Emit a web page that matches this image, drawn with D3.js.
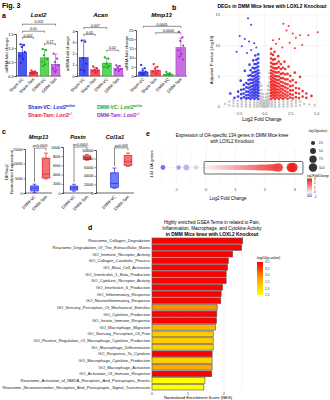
<!DOCTYPE html>
<html>
<head>
<meta charset="utf-8">
<script src="https://cdn.jsdelivr.net/npm/d3@7"></script>
<style>
body { margin: 0; background: #fff; }
svg { display: block; font-family: "Liberation Sans", Arial, sans-serif; }
</style>
</head>
<body>
<svg id="fig" width="330" height="400"></svg>
<script>
// ---- panel a : qPCR bars ----
const groups = ["Sham-VC", "Sham-Tam", "DMM-VC", "DMM-Tam"];
const groupFill = ["#4b55f0", "#f4505f", "#5ad65a", "#c872e2"];
const groupDark = ["#1f27d6", "#e01e3a", "#1faa1f", "#a22fc8"];

const loxl2Mean = [0.84, 0.13, 0.65, 0.42];
const loxl2Sd = [0.29, 0.04, 0.30, 0.36];
const loxl2Pts = [[1.13, 1.10, 1.04, 0.86, 0.72, 0.60, 0.47], [0.19, 0.16, 0.14, 0.12, 0.11, 0.09, 0.08],
                  [0.96, 0.92, 0.74, 0.60, 0.50, 0.42, 0.36], [0.80, 0.62, 0.50, 0.38, 0.26, 0.20, 0.16]];
const loxl2Brackets = [[0, 3, 1.85, "0.052"], [0, 2, 1.6, "0.01"], [0, 1, 1.38, "0.002"], [2, 3, 1.15, "0.27"]];

const acanMean = [1.65, 0.55, 1.15, 0.70];
const acanSd = [1.55, 0.20, 0.42, 0.20];
const acanPts = [[3.15, 3.05, 1.60, 1.10, 0.55, 0.45], [0.85, 0.70, 0.55, 0.48, 0.40, 0.30],
                 [1.65, 1.55, 1.10, 0.90, 0.80, 0.75], [0.95, 0.88, 0.78, 0.62, 0.52, 0.45]];
const acanBrackets = [[0, 2, 4.3, "0.007"], [0, 1, 3.7, "0.05"], [2, 3, 2.3, "0.02"]];

const mmp13Mean = [2.2, 3.0, 1.0, 15.5];
const mmp13Sd = [1.8, 1.9, 0.6, 5.0];
const mmp13Pts = [[6.0, 4.2, 3.0, 2.4, 1.8, 1.2, 0.8], [6.5, 5.0, 4.0, 3.0, 2.4, 1.5],
                  [2.2, 1.5, 1.1, 0.8, 0.5, 0.4], [24, 21, 19, 16.5, 14, 12, 10.5, 9]];
const mmp13Brackets = [[0, 3, 27, "0.0005"], [1, 3, 23.5, "0.0004"]];

// ---- panel b : volcano (columns of x with their y values) ----
const volcanoGray = [
  [-0.45, [0.2, 0.6, 1.0, 1.4, 1.8, 2.3, 2.8, 3.4, 4.0, 4.8, 5.6]], [-0.3, [0.1, 0.45, 0.85, 1.25, 1.7, 2.2, 2.8, 3.5]],
  [-0.15, [0.05, 0.35, 0.7, 1.1, 1.6, 2.1]], [0, [0.05, 0.3, 0.6, 1.0]], [0.15, [0.05, 0.35, 0.7, 1.1, 1.6, 2.1]],
  [0.3, [0.1, 0.45, 0.85, 1.25, 1.7, 2.2, 2.8, 3.5]], [0.45, [0.2, 0.6, 1.0, 1.4, 1.8, 2.3, 2.8, 3.4, 4.0, 4.8, 5.6]],
  [-3.8, [0.5]], [-3.4, [0.3, 0.9]], [-3.0, [0.2, 0.7, 1.1]], [-2.6, [0.15, 0.55, 1.0]], [-2.2, [0.1, 0.5, 0.9]],
  [-1.8, [0.1, 0.45, 0.85, 1.2]], [-1.4, [0.1, 0.4, 0.8, 1.2]], [-1.0, [0.05, 0.4, 0.75, 1.15]], [-0.7, [0.05, 0.35, 0.7, 1.05]],
  [0.7, [0.05, 0.35, 0.7, 1.05]], [1.0, [0.05, 0.4, 0.75, 1.15]], [1.4, [0.1, 0.4, 0.8, 1.2]], [1.8, [0.1, 0.45, 0.85, 1.2]],
  [2.2, [0.1, 0.5, 0.9]], [2.6, [0.15, 0.55, 1.0]], [3.0, [0.2, 0.7, 1.1]], [3.4, [0.3, 0.9]], [3.8, [0.5]], [4.3, [0.4]], [4.8, [0.3]]
];
const volcanoDown = [
  [-0.62, [1.35, 1.8, 2.25, 2.7, 3.15, 3.6, 4.05, 4.5, 5.0, 5.5, 6.0, 6.6, 7.2, 7.9, 8.6]],
  [-0.8, [1.55, 2.0, 2.45, 2.9, 3.35, 3.8, 4.3, 4.8, 5.3, 5.8, 6.4, 7.0, 7.7]],
  [-0.98, [1.35, 1.8, 2.25, 2.7, 3.15, 3.6, 4.1, 4.6, 5.1, 5.7, 6.3, 7.0]],
  [-1.16, [1.55, 2.0, 2.45, 2.9, 3.4, 3.9, 4.4, 5.0, 5.6, 6.4]],
  [-1.35, [1.35, 1.8, 2.3, 2.8, 3.3, 3.9, 4.5, 5.2, 6.0]],
  [-1.55, [1.5, 2.0, 2.5, 3.1, 3.7, 4.4, 5.1]], [-1.76, [1.4, 1.9, 2.5, 3.2, 3.9]], [-2.0, [1.6, 2.2, 2.9, 3.6]],
  [-2.25, [1.4, 2.1, 2.8]], [-2.55, [1.7, 2.5]], [-2.9, [1.5]], [-3.3, [2.2]],
  [-1.9, [5.9]], [-2.3, [4.3]], [-1.45, [6.9]], [-1.1, [7.6]], [-0.9, [8.4]]
];
const volcanoUp = [
  [0.62, [1.35, 1.8, 2.25, 2.7, 3.15, 3.6, 4.05, 4.5, 5.0, 5.5, 6.0, 6.6, 7.2, 7.9, 8.7, 9.5]],
  [0.8, [1.55, 2.0, 2.45, 2.9, 3.35, 3.8, 4.3, 4.8, 5.3, 5.8, 6.4, 7.0, 7.7, 8.5]],
  [0.98, [1.35, 1.8, 2.25, 2.7, 3.15, 3.6, 4.1, 4.6, 5.1, 5.7, 6.3, 7.0, 7.8]],
  [1.16, [1.55, 2.0, 2.45, 2.9, 3.4, 3.9, 4.4, 5.0, 5.6, 6.3, 7.1]],
  [1.35, [1.35, 1.8, 2.3, 2.8, 3.3, 3.8, 4.4, 5.0, 5.7, 6.5, 7.4]],
  [1.55, [1.55, 2.0, 2.5, 3.0, 3.5, 4.1, 4.7, 5.4, 6.2, 7.0]],
  [1.76, [1.35, 1.8, 2.3, 2.85, 3.4, 4.0, 4.7, 5.5, 6.4]],
  [1.98, [1.55, 2.05, 2.6, 3.2, 3.8, 4.5, 5.3, 6.2]],
  [2.2, [1.35, 1.85, 2.4, 3.0, 3.7, 4.5, 5.4]], [2.45, [1.55, 2.1, 2.7, 3.4, 4.2, 5.1]],
  [2.7, [1.4, 2.0, 2.7, 3.5, 4.4]], [3.0, [1.6, 2.3, 3.1, 4.0]], [3.3, [1.45, 2.2, 3.0]],
  [3.65, [1.7, 2.6]], [4.0, [1.5, 2.2]], [4.5, [1.8]],
  [2.9, [5.6]], [2.3, [6.6]], [3.4, [4.9]], [1.9, [7.4]], [1.3, [8.3]], [0.95, [9.0]]
];
const volcanoTop = [
  [-1.6, 14.5], [-1.3, 13.4], [-2.4, 11.6], [-1.9, 11.1], [-1.5, 10.7], [-1.0, 10.4], [-2.2, 9.9], [-0.8, 9.7],
  [-1.3, 9.3], [-2.7, 9.0], [-1.7, 8.8], [1.8, 13.6], [2.3, 13.2], [2.1, 12.5], [2.7, 12.0], [1.4, 11.1],
  [3.0, 11.3], [3.4, 11.7], [1.1, 10.3], [2.4, 10.5], [3.6, 10.1], [1.7, 9.7], [5.1, 12.2], [4.2, 11.7],
  [2.9, 9.6], [0.8, 10.9]
];

// ---- panel c : boxes [min, q1, median, q3, max] ----
const boxGroups = ["DMM-VC", "DMM-Tam"];
const cMmp13 = [[100, 680, 1600, 2400, 3000], [4800, 5100, 6400, 11900, 13600]];
const cPostn = [[400, 650, 1100, 1500, 1900], [7100, 7300, 7750, 8100, 8400]];
const cCol1a1 = [[11000, 13000, 22000, 47000, 58000], [62000, 64000, 73000, 87000, 93000]];

// ---- panel e : OA genes ----
const oaFc = [-1.45, -0.92, -0.66, -0.33, 0.04, 0.12, 0.21, 0.29, 0.36, 0.44, 0.52, 0.58, 0.66, 0.73, 0.81, 0.88,
  0.95, 1.03, 1.1, 1.17, 1.25, 1.31, 1.38, 1.46, 1.52, 1.6, 1.67, 1.73, 1.8, 1.87, 1.93, 2.0, 2.08, 2.15, 2.22,
  2.33, 2.47, 2.42, 2.88, 2.94];
const oaP = [3.3, 3.0, 5.0, 3.0, 2.8, 3.0, 2.9, 3.1, 3.0, 3.2, 3.1, 3.3, 3.2, 3.4, 3.3, 3.5,
  3.4, 3.6, 3.5, 3.7, 3.8, 3.7, 3.9, 4.0, 4.1, 4.2, 4.4, 4.5, 4.7, 4.8, 5.0, 5.2, 5.5, 5.8, 6.3,
  7.5, 9.0, 9.5, 11.5, 13.0];

// ---- panel d : GSEA ----
const gseaTerms = [
  "Reactome_Collagen_Degradation", "Reactome_Degradation_Of_The_Extracellular_Matrix", "GO_Immune_Receptor_Activity",
  "GO_Collagen_Catabolic_Process", "GO_Mast_Cell_Activation", "GO_Interleukin_1_Beta_Production",
  "GO_Cytokine_Receptor_Activity", "GO_Interleukin_6_Production", "GO_Inflammatory_Response",
  "GO_Neuroinflammatory_Response", "GO_Sensory_Perception_Of_Mechanical_Stimulus", "GO_Cytokine_Production",
  "GO_Innate_Immune_Response", "GO_Macrophage_Migration", "GO_Sensory_Perception_Of_Pain",
  "GO_Positive_Regulation_Of_Macrophage_Cytokine_Production", "GO_Macrophage_Differentiation", "GO_Response_To_Cytokine",
  "GO_Macrophage_Cytokine_Production", "GO_Macrophage_Activation", "GO_Activation_Of_Immune_Response",
  "Reactome_Activation_of_NMDA_Receptors_And_Postsynaptic_Events",
  "Reactome_Neurotransmitter_Receptors_And_Postsynaptic_Signal_Transmission"
];
const gseaNes = [2.52, 2.49, 2.24, 2.12, 2.10, 2.06, 2.06, 1.96, 1.92, 1.91, 1.81, 1.80, 1.79, 1.76, 1.70, 1.70,
  1.70, 1.67, 1.67, 1.67, 1.66, 1.47, 1.44];
const gseaLogP = [4, 4, 4, 4, 4, 4, 4, 4, 4, 4, 2.9, 4, 4, 2.6, 2.2, 2.2, 2.2, 4, 2.2, 2.7, 4, 1.5, 1.5];

const svg = d3.select("#fig");
const defs = svg.append("defs");

function label(x, y, s, size, o = {}) {
  const t = svg.append("text").attr("x", x).attr("y", y).attr("font-size", size).text(s);
  if (o.anchor) t.attr("text-anchor", o.anchor);
  if (o.weight) t.attr("font-weight", o.weight);
  if (o.italic) t.attr("font-style", "italic");
  t.attr("fill", o.fill || "#000");
  if (o.rotate) t.attr("transform", `rotate(${o.rotate},${x},${y})`);
  return t;
}

function styleAxis(g, size) {
  g.attr("font-family", null).attr("font-size", null);
  g.select(".domain").attr("stroke", "#000").attr("stroke-width", 0.6);
  g.selectAll(".tick line").attr("stroke-width", 0.5);
  g.selectAll(".tick text").attr("font-size", size).attr("fill", "#000");
}

function bracket(x1, x2, yb, text, size) {
  svg.append("path")
    .attr("d", `M${x1},${yb + 1.6}V${yb}H${x2}V${yb + 1.6}`)
    .attr("fill", "none").attr("stroke", "#222").attr("stroke-width", 0.5);
  label((x1 + x2) / 2, yb - 0.8, text, size, { anchor: "middle" });
}

label(2, 8, "Fig. 3", 7, { weight: "bold" });
label(2, 18, "a", 7, { weight: "bold" });
label(172, 10, "b", 7, { weight: "bold" });
label(2, 134, "c", 7, { weight: "bold" });
label(146, 136, "e", 7, { weight: "bold" });
label(88, 230, "d", 7, { weight: "bold" });

// ---------- panel a ----------
const jitter = [-2, 1.6, -0.6, 2.4, -2.6, 0.6, -1.4, 2.0];
function barChart(cfg) {
  const base = 76;
  const x = d3.scaleBand().domain(groups).range([cfg.left + 1, cfg.right]).paddingInner(0.22).paddingOuter(0.1);
  const y = d3.scaleLinear().domain([0, cfg.yMax]).range([base, cfg.top]);

  svg.append("g").attr("transform", `translate(${cfg.left},0)`)
    .call(d3.axisLeft(y).tickValues(cfg.ticks).tickFormat(cfg.fmt).tickSize(1.5).tickPadding(1))
    .call(g => styleAxis(g, 3.8));

  svg.append("line").attr("x1", cfg.left).attr("x2", cfg.right).attr("y1", base).attr("y2", base)
    .attr("stroke", "#000").attr("stroke-width", 0.6);

  groups.forEach((gname, i) => {
    const bx = x(gname), bw = x.bandwidth(), cx = bx + bw / 2;
    svg.append("rect").attr("x", bx).attr("y", y(cfg.mean[i])).attr("width", bw)
      .attr("height", base - y(cfg.mean[i]))
      .attr("fill", groupFill[i]).attr("stroke", groupDark[i]).attr("stroke-width", 0.5);
    const hi = y(cfg.mean[i] + cfg.sd[i]), lo = y(Math.max(0, cfg.mean[i] - cfg.sd[i]));
    svg.append("path").attr("d", `M${cx},${lo}V${hi}M${cx - 1.8},${hi}H${cx + 1.8}`)
      .attr("stroke", groupDark[i]).attr("stroke-width", 0.6).attr("fill", "none");
    cfg.pts[i].forEach((v, k) => {
      svg.append("circle").attr("cx", cx + jitter[k % jitter.length]).attr("cy", y(v)).attr("r", 1.1)
        .attr("fill", groupDark[i]);
    });
    label(cx + 1.5, base + 3.5, gname, 4.2, { anchor: "end", rotate: -45 });
  });

  cfg.brackets.forEach(([a, b, v, t]) => {
    bracket(x(groups[a]) + x.bandwidth() / 2, x(groups[b]) + x.bandwidth() / 2, y(v), t, 3.6);
  });

  label((cfg.left + cfg.right) / 2, 17, cfg.title, 6, { anchor: "middle", weight: "bold", italic: true });
  label(cfg.left - 8, (base + cfg.top) / 2, "mRNA fold change", 4.2, { anchor: "middle", rotate: -90 });
}

barChart({ left: 16, right: 61, top: 34, yMax: 1.5, ticks: [0, 0.5, 1.0, 1.5], fmt: d3.format(".1f"),
  mean: loxl2Mean, sd: loxl2Sd, pts: loxl2Pts, brackets: loxl2Brackets, title: "Loxl2" });
barChart({ left: 77, right: 124, top: 31, yMax: 4, ticks: [0, 1, 2, 3, 4], fmt: d3.format("d"),
  mean: acanMean, sd: acanSd, pts: acanPts, brackets: acanBrackets, title: "Acan" });
barChart({ left: 136, right: 187, top: 30, yMax: 25, ticks: [0, 5, 10, 15, 20, 25], fmt: d3.format("d"),
  mean: mmp13Mean, sd: mmp13Sd, pts: mmp13Pts, brackets: mmp13Brackets, title: "Mmp13" });

// legend of panel a
function legendItem(x, y, i, name, geno) {
  const t = svg.append("text").attr("x", x).attr("y", y).attr("font-size", 5).attr("font-weight", "bold")
    .attr("fill", groupDark[i]);
  t.append("tspan").text(name + ": ");
  t.append("tspan").attr("font-style", "italic").text("Loxl2");
  t.append("tspan").attr("font-style", "italic").attr("font-size", 3.4).attr("dy", -1.8).text(geno);
}
legendItem(28, 109, 0, "Sham-VC", "wt/wt");
legendItem(97, 109, 2, "DMM-VC", "wt/wt");
legendItem(28, 117, 1, "Sham-Tam", "-/-");
legendItem(97, 117, 3, "DMM-Tam", "-/-");

// ---------- panel b ----------
const vx = d3.scaleLinear().domain([-4.1, 5.8]).range([222, 325]);
const vy = d3.scaleLinear().domain([0, 15.5]).range([107, 12]);
[-2.5, 0, 2.5, 5].forEach(t => {
  svg.append("line").attr("x1", vx(t)).attr("x2", vx(t)).attr("y1", vy(15.5)).attr("y2", vy(0) + 2)
    .attr("stroke", "#ebebeb").attr("stroke-width", 0.5);
  label(vx(t), 115, d3.format(".1f")(t), 4, { anchor: "middle", fill: "#4d4d4d" });
});
[0, 5, 10, 15].forEach(t => {
  svg.append("line").attr("x1", vx(-4.1)).attr("x2", vx(5.8)).attr("y1", vy(t)).attr("y2", vy(t))
    .attr("stroke", "#ebebeb").attr("stroke-width", 0.5);
  label(vx(-4.1) - 2, vy(t) + 1.4, t, 4, { anchor: "end", fill: "#4d4d4d" });
});
const flat = cols => cols.flatMap(([x, ys]) => ys.map(y => [x, y]));
function volcanoDots(pts, color, r) {
  svg.append("g").selectAll("circle").data(pts).join("circle")
    .attr("cx", d => vx(d[0])).attr("cy", d => vy(d[1])).attr("r", r)
    .attr("fill", color).attr("fill-opacity", 0.85);
}
volcanoDots(flat(volcanoGray), "#bdbdbd", 1.2);
volcanoDots(flat(volcanoDown), "#2222e6", 1.35);
volcanoDots(flat(volcanoUp), "#f01414", 1.35);
volcanoDots(volcanoTop.filter(d => d[0] < 0), "#2222e6", 1.0);
volcanoDots(volcanoTop.filter(d => d[0] > 0), "#f01414", 1.0);
label(272, 7.5, "DEGs in DMM Mice knee with LOXL2 Knockout", 4.9, { anchor: "middle", weight: "bold" });
label(262, 121, "Log2 Fold Change", 4.8, { anchor: "middle" });
label(213, 60, "Adjusted P-value (-log10)", 4.3, { anchor: "middle", rotate: -90 });

// ---------- panel c ----------
function boxChart(cfg) {
  const base = 193;
  const y = d3.scaleLinear().domain([0, cfg.yMax]).range([base, cfg.top]);
  const cx = d3.scalePoint().domain(boxGroups).range([cfg.axis + cfg.off[0], cfg.axis + cfg.off[1]]);
  const colsFill = ["#6f7cf7", "#f27272"], colsLine = ["#2327e0", "#e41e1e"];
  const right = cx("DMM-Tam") + 6;

  svg.append("g").attr("transform", `translate(${cfg.axis},0)`)
    .call(d3.axisLeft(y).tickValues(cfg.ticks).tickFormat(d3.format("d")).tickSize(1.5).tickPadding(1))
    .call(g => styleAxis(g, 3.4));
  svg.append("line").attr("x1", cfg.axis).attr("x2", right).attr("y1", base).attr("y2", base)
    .attr("stroke", "#000").attr("stroke-width", 0.6);

  boxGroups.forEach((gname, i) => {
    const [mn, q1, md, q3, mx] = cfg.stats[i];
    const c = cx(gname), w = 7.6;
    svg.append("path").attr("d", `M${c},${y(mx)}V${y(q3)}M${c},${y(q1)}V${y(mn)}M${c - 2},${y(mx)}H${c + 2}M${c - 2},${y(mn)}H${c + 2}`)
      .attr("stroke", colsLine[i]).attr("stroke-width", 0.7);
    svg.append("rect").attr("x", c - w / 2).attr("y", y(q3)).attr("width", w).attr("height", y(q1) - y(q3))
      .attr("fill", colsFill[i]).attr("stroke", colsLine[i]).attr("stroke-width", 0.7);
    svg.append("line").attr("x1", c - w / 2).attr("x2", c + w / 2).attr("y1", y(md)).attr("y2", y(md))
      .attr("stroke", colsLine[i]).attr("stroke-width", 0.7);
    label(c + 1.5, base + 4, gname, 4.2, { anchor: "end", rotate: -45 });
  });

  const yb = y(cfg.bracketAt);
  const x1 = cx("DMM-VC"), x2 = cx("DMM-Tam");
  svg.append("path")
    .attr("d", `M${x1},${y(cfg.stats[0][4]) - 2}V${yb}H${x2}V${Math.min(yb + 2.5, y(cfg.stats[1][4]) - 2)}`)
    .attr("fill", "none").attr("stroke", "#222").attr("stroke-width", 0.5);
  label((x1 + x2) / 2, yb - 1, cfg.p, 3.6, { anchor: "middle" });
  label((cfg.axis + right) / 2, 138.5, cfg.title, 5.6, { anchor: "middle", weight: "bold", italic: true });
}
boxChart({ axis: 25, off: [9.5, 21], top: 149, yMax: 15000, ticks: [0, 5000, 10000, 15000],
  stats: cMmp13, bracketAt: 15300, p: "p<0.0001", title: "Mmp13" });
boxChart({ axis: 63, off: [11, 24], top: 147, yMax: 10000, ticks: [0, 2000, 4000, 6000, 8000, 10000],
  stats: cPostn, bracketAt: 10000, p: "p<0.0001", title: "Postn" });
boxChart({ axis: 96, off: [18.5, 32], top: 150, yMax: 100000, ticks: [0, 20000, 40000, 60000, 80000, 100000],
  stats: cCol1a1, bracketAt: 105000, p: "p=0.009", title: "Col1a1" });
label(8, 172, "DESeq2", 4.3, { anchor: "middle", rotate: -90 });
label(13, 172, "Normalized Expression", 4.3, { anchor: "middle", rotate: -90 });

// ---------- panel e ----------
const ex = d3.scaleLinear().domain([-1.55, 3.35]).range([160, 305]);
const eyRow = 167.5;
const eColor = d3.scaleLinear().domain([-1, 0, 3]).range(["#a385f4", "#f7eef0", "#f01c16"]);
const eSize = d3.scaleSqrt().domain([0, 10]).range([0, 4.2]);
[-1.5, -1, -0.5, 0, 0.5, 1, 1.5, 2, 2.5, 3].forEach(t => {
  svg.append("line").attr("x1", ex(t)).attr("x2", ex(t)).attr("y1", 148).attr("y2", 183)
    .attr("stroke", Number.isInteger(t) ? "#e6e6e6" : "#f2f2f2").attr("stroke-width", 0.5);
});
svg.append("line").attr("x1", 160).attr("x2", 305).attr("y1", eyRow).attr("y2", eyRow)
  .attr("stroke", "#e6e6e6").attr("stroke-width", 0.5);
[-1, 0, 1, 2, 3].forEach(t => label(ex(t), 190.5, t, 4.4, { anchor: "middle", fill: "#4d4d4d" }));
const oaIdx = d3.range(oaFc.length).sort((a, b) => oaP[a] - oaP[b]);
svg.append("g").selectAll("circle").data(oaIdx).join("circle")
  .attr("cx", i => ex(oaFc[i])).attr("cy", eyRow).attr("r", i => eSize(oaP[i]))
  .attr("fill", i => eColor(oaFc[i])).attr("fill-opacity", 0.9);
svg.append("rect").attr("x", ex(-0.06)).attr("y", 161.5).attr("width", ex(3.28) - ex(-0.06)).attr("height", 12.5)
  .attr("fill", "none").attr("stroke", "#444").attr("stroke-width", 0.8).attr("rx", 1);
label(232, 136.5, "Expression of OA-specific 134 genes in DMM Mice knee", 4.5, { anchor: "middle" });
label(232, 142.5, "with LOXL2 Knockout", 4.5, { anchor: "middle" });
label(228, 199.5, "Log2 Fold Change", 4.5, { anchor: "middle" });
label(153, 164, "134 OA genes", 4.3, { anchor: "middle", rotate: -90 });
// size legend
label(308, 131.5, "-log10(pvalue)", 3, {});
[2.5, 5, 7.5, 10].forEach((v, k) => {
  const cy = [143, 151, 159.2, 167.5][k];
  svg.append("circle").attr("cx", 313).attr("cy", cy).attr("r", eSize(v)).attr("fill", "#333");
  label(319, cy + 1, d3.format(".1f")(v), 2.8, {});
});
// colour legend
label(307, 176.5, "log2FoldChange", 3, {});
const eg = defs.append("linearGradient").attr("id", "egrad").attr("x1", 0).attr("x2", 0).attr("y1", 0).attr("y2", 1);
[[0, 3], [0.25, 2], [0.5, 1], [0.75, 0], [1, -1]].forEach(([o, v]) =>
  eg.append("stop").attr("offset", o).attr("stop-color", eColor(v)));
const ecb = d3.scaleLinear().domain([3, -1]).range([178.5, 197]);
svg.append("rect").attr("x", 307).attr("y", 178.5).attr("width", 5).attr("height", 18.5).attr("fill", "url(#egrad)");
[3, 2, 1, 0, -1].forEach(v => label(314, ecb(v) + 1, v, 2.8, {}));

// ---------- panel d ----------
const dx = d3.scaleLinear().domain([0, 2.6]).range([152, 245.6]);
const dy = d3.scaleBand().domain(gseaTerms).range([238, 390]).paddingInner(0.14);
const dColor = d3.scaleLinear().domain([1.5, 2.75, 4]).range(["#ffff00", "#ffa500", "#ff0000"]);
[0, 0.5, 1, 1.5, 2, 2.5].forEach(t => {
  svg.append("line").attr("x1", dx(t)).attr("x2", dx(t)).attr("y1", 237).attr("y2", 391)
    .attr("stroke", "#ebebeb").attr("stroke-width", 0.5);
});
[0, 1, 2].forEach(t => label(dx(t), 394.5, t, 4.2, { anchor: "middle", fill: "#4d4d4d" }));
svg.append("g").selectAll("rect").data(gseaTerms).join("rect")
  .attr("x", dx(0)).attr("y", d => dy(d)).attr("height", dy.bandwidth())
  .attr("width", (d, i) => dx(gseaNes[i]) - dx(0))
  .attr("fill", (d, i) => dColor(gseaLogP[i])).attr("stroke", "#555").attr("stroke-width", 0.6);
svg.append("g").selectAll("text").data(gseaTerms).join("text")
  .attr("x", 150).attr("y", d => dy(d) + dy.bandwidth() / 2 + 1.5)
  .attr("text-anchor", "end").attr("font-size", 4.1).attr("fill", "#222").text(d => d);
label(212, 223.5, "Highly enriched GSEA Terms in related to Pain,", 4.6, { anchor: "middle" });
label(212, 229.5, "Inflammation, Macrophage, and Cytokine Activity", 4.6, { anchor: "middle" });
label(212, 235.5, "in DMM Mice knee with LOXL2 Knockout", 4.8, { anchor: "middle", weight: "bold" });
label(198, 399.3, "Normalized Enrichment Score (NES)", 4.2, { anchor: "middle" });
// colour bar
label(256, 259, "-log10(p-value)", 3.6, {});
const dg = defs.append("linearGradient").attr("id", "dgrad").attr("x1", 0).attr("x2", 0).attr("y1", 0).attr("y2", 1);
[[0, 4], [0.5, 2.75], [1, 1.5]].forEach(([o, v]) => dg.append("stop").attr("offset", o).attr("stop-color", dColor(v)));
const dcb = d3.scaleLinear().domain([4, 1.5]).range([262, 295]);
svg.append("rect").attr("x", 257).attr("y", 262).attr("width", 6).attr("height", 33).attr("fill", "url(#dgrad)");
[4, 3.5, 3, 2.5, 2, 1.5].forEach(v => label(265, dcb(v) + 1.2, d3.format(".1f")(v), 3.2, { fill: "#333" }));
</script>
</body>
</html>
